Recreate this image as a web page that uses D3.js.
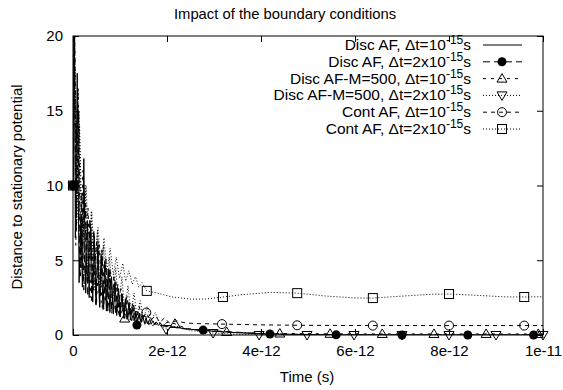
<!DOCTYPE html>
<html>
<head>
<meta charset="utf-8">
<script src="https://cdn.jsdelivr.net/npm/d3@7"></script>
<style>
  body { margin: 0; background: #fff; }
  svg { font-family: "Liberation Sans", Arial, sans-serif; }
  .axis text { font-size: 15px; fill: #000; }
  .axis line { stroke: #000; }
</style>
</head>
<body>
<svg width="563" height="390"></svg>
<script>
var svg = d3.select("svg"),
    width = +svg.attr("width"),
    height = +svg.attr("height");

// time in ps, value = distance to stationary potential
var discAF1 = [[0,10],[0.025,23],[0.05,6.5],[0.09,17.5],[0.13,3.5],[0.17,8],[0.2,3.2],[0.23,11.8],[0.27,2.8],
  [0.31,7.5],[0.345,2.5],[0.38,7.2],[0.42,2.2],[0.455,6.6],[0.49,2.0],[0.53,6.0],[0.565,1.85],[0.6,5.4],
  [0.64,1.7],[0.675,4.9],[0.71,1.6],[0.75,4.4],[0.785,1.5],[0.82,3.9],[0.86,1.4],[0.895,3.5],[0.93,1.3],
  [0.97,3.1],[1.005,1.2],[1.04,2.7],[1.08,1.12],[1.115,2.4],[1.15,1.05],[1.19,2.1],[1.225,1.0],[1.26,1.85],
  [1.3,0.95],[1.335,1.6],[1.37,0.9],[1.41,1.45],[1.445,0.85],[1.48,1.3],[1.52,0.8],[1.555,1.15],[1.59,0.75],
  [1.63,1.05],[1.665,0.72],[1.7,0.95],[1.74,0.68],[1.78,0.85],[1.82,0.64],[1.86,0.78],[1.9,0.6],[1.95,0.7],
  [2.0,0.56],[2.05,0.64],[2.1,0.52],[2.2,0.5],[2.4,0.42],[2.6,0.35],[3.0,0.25],[3.5,0.15],[4.0,0.08],
  [5,0.03],[6,0.01],[8,0],[10,0]];

var discAF2 = [[0,10],[0.03,22],[0.06,7],[0.1,16.5],[0.145,3.8],[0.19,9.5],[0.23,3.0],[0.27,8.8],[0.315,2.6],
  [0.36,7.8],[0.4,2.3],[0.445,7.0],[0.485,2.1],[0.53,6.3],[0.57,1.9],[0.615,5.7],[0.655,1.75],[0.7,5.1],
  [0.74,1.6],[0.785,4.5],[0.825,1.45],[0.87,3.9],[0.91,1.35],[0.955,3.4],[0.995,1.25],[1.04,2.9],[1.08,1.15],
  [1.125,2.5],[1.165,1.05],[1.21,2.15],[1.25,0.95],[1.295,1.8],[1.36,0.67],[1.4,1.45],[1.445,0.8],[1.49,1.25],
  [1.53,0.72],[1.575,1.05],[1.615,0.68],[1.66,0.92],[1.7,0.62],[1.75,0.8],[1.8,0.58],[1.9,0.65],[2.0,0.52],
  [2.1,0.55],[2.25,0.45],[2.4,0.4],[2.77,0.33],[3.4,0.2],[4.19,0.07],[5.6,0.01],[7,0],[8.4,0],[9.8,0],[10,0]];
var discAF2Marks = [[0,10],[1.36,0.67],[2.77,0.33],[4.19,0.07],[5.6,0.01],[7,0],[8.4,0],[9.8,0]];

var discM1 = [[0,10],[0.03,22],[0.06,6],[0.11,16.5],[0.16,3.8],[0.21,11],[0.26,3.1],[0.32,8.5],[0.38,2.5],
  [0.44,7],[0.5,2.1],[0.56,6],[0.62,1.8],[0.68,5],[0.74,1.6],[0.8,4.2],[0.86,1.4],[0.92,3.5],[0.98,1.25],
  [1.04,2.9],[1.1,1.1],[1.16,2.4],[1.22,1.0],[1.28,2.0],[1.34,0.9],[1.4,1.65],[1.46,0.85],[1.52,1.35],[1.58,0.8],
  [1.65,1.15],[1.72,0.7],[1.8,1.0],[1.9,0.65],[2.0,0.85],[2.17,0.75],[2.4,0.45],[2.7,0.3],[3.27,0.2],[3.8,0.13],
  [4.4,0.1],[5.47,0.08],[6.58,0.07],[7.68,0.07],[8.79,0.07],[9.9,0.07],[10,0.07]];
var discM1Marks = [[0,10],[1.1,1.1],[2.17,0.75],[3.27,0.2],[4.4,0.1],[5.47,0.08],[6.58,0.07],[7.68,0.07],[8.79,0.07],[9.9,0.07]];

var discM2 = [[0,10],[0.03,21],[0.08,7.5],[0.13,15],[0.19,4.5],[0.26,10],[0.32,3.6],[0.39,8.3],[0.45,3],
  [0.52,7],[0.58,2.6],[0.65,6],[0.71,2.3],[0.78,5.2],[0.84,2.0],[0.91,4.5],[0.97,1.8],[1.04,3.9],[1.1,1.6],
  [1.17,3.3],[1.23,1.4],[1.3,2.8],[1.36,1.25],[1.43,2.3],[1.5,1.1],[1.58,1.9],[1.66,0.95],[1.75,1.5],[1.85,0.7],
  [1.98,0.4],[2.2,0.6],[2.5,0.3],[2.98,0.13],[3.5,0.05],[3.96,0],[10,0]];
var discM2Marks = [[0,10],[1.0,1.7],[1.98,0.4],[2.98,0.13],[3.96,0],[4.98,0],[5.98,0],[7.0,0],[8.0,0],[9.0,0],[10,0]];

var contAF1 = [[0,10],[0.03,22],[0.07,7],[0.12,15],[0.17,4.5],[0.24,9.5],[0.3,3.6],[0.37,7.5],[0.43,3],
  [0.5,6.2],[0.56,2.5],[0.63,5.2],[0.69,2.2],[0.76,4.4],[0.82,1.9],[0.89,3.7],[0.95,1.7],[1.02,3.1],[1.08,1.5],
  [1.15,2.6],[1.21,1.3],[1.28,2.2],[1.34,1.15],[1.41,1.9],[1.47,1.05],[1.56,1.5],[1.65,0.95],[1.75,1.3],[1.85,0.85],
  [1.95,1.15],[2.05,0.8],[2.2,0.95],[2.4,0.8],[2.7,0.76],[3.17,0.73],[4,0.68],[4.77,0.65],[6.38,0.63],[8.0,0.63],
  [9.6,0.63],[10,0.63]];
var contAF1Marks = [[0,10],[1.56,1.5],[3.17,0.73],[4.77,0.65],[6.38,0.63],[8.0,0.63],[9.6,0.63]];

var contAF2 = [[0,10],[0.03,21],[0.08,8],[0.14,14],[0.2,6],[0.28,10],[0.34,5.2],[0.4,8.2],[0.46,4.8],
  [0.53,7.2],[0.6,4.5],[0.66,6.5],[0.72,4.2],[0.79,5.8],[0.86,4],[0.92,5.2],[0.99,3.8],[1.06,4.8],[1.12,3.6],
  [1.19,4.3],[1.26,3.4],[1.33,3.9],[1.4,3.2],[1.47,3.5],[1.57,2.95],[1.8,2.8],[2.1,2.55],[2.5,2.4],[2.8,2.4],
  [3.19,2.54],[3.6,2.7],[4.2,2.85],[4.77,2.8],[5.4,2.6],[6.0,2.48],[6.38,2.47],[7.0,2.6],[7.6,2.72],[8.0,2.74],
  [8.6,2.65],[9.2,2.55],[9.6,2.54],[10,2.56]];
var contAF2Marks = [[0,10],[1.57,2.95],[3.19,2.54],[4.77,2.8],[6.38,2.47],[8.0,2.74],[9.6,2.54]];

var xTicks = [0, 2e-12, 4e-12, 6e-12, 8e-12, 1e-11];
var xTickLabels = ["0", "2e-12", "4e-12", "6e-12", "8e-12", "1e-11"];
var yTicks = [0, 5, 10, 15, 20];

var series = [
  {pre: "Disc AF, \u0394t=10", data: discAF1, marks: [], dash: null, sym: null},
  {pre: "Disc AF, \u0394t=2x10", data: discAF2, marks: discAF2Marks, dash: "7,4", sym: "dot"},
  {pre: "Disc AF-M=500, \u0394t=10", data: discM1, marks: discM1Marks, dash: "3,5", sym: "up"},
  {pre: "Disc AF-M=500, \u0394t=2x10", data: discM2, marks: discM2Marks, dash: "1,2", sym: "down"},
  {pre: "Cont AF, \u0394t=10", data: contAF1, marks: contAF1Marks, dash: "4,4", sym: "circle"},
  {pre: "Cont AF, \u0394t=2x10", data: contAF2, marks: contAF2Marks, dash: "1,2", sym: "square"}
];

var plotLeft = 73, plotRight = 543, plotTop = 36, plotBottom = 335;

var x = d3.scaleLinear().domain([0, 1e-11]).range([plotLeft, plotRight]);
var y = d3.scaleLinear().domain([0, 20]).range([plotBottom, plotTop]);

svg.append("defs").append("clipPath").attr("id", "clip")
  .append("rect").attr("x", plotLeft).attr("y", plotTop)
  .attr("width", plotRight - plotLeft).attr("height", plotBottom - plotTop);

var line = d3.line()
    .x(function(d) { return x(d[0] * 1e-12); })
    .y(function(d) { return y(d[1]); });

function drawMarker(g, sym, cx, cy) {
  if (sym === "dot") {
    g.append("circle").attr("cx", cx).attr("cy", cy).attr("r", 4.5).attr("fill", "#000");
  } else if (sym === "circle") {
    g.append("circle").attr("cx", cx).attr("cy", cy).attr("r", 4.5)
      .attr("fill", "none").attr("stroke", "#000");
  } else if (sym === "square") {
    g.append("rect").attr("x", cx - 4.5).attr("y", cy - 4.5).attr("width", 9).attr("height", 9)
      .attr("fill", "none").attr("stroke", "#000");
  } else if (sym === "up") {
    g.append("path").attr("d", "M" + (cx - 5) + "," + (cy + 3.5) + "L" + (cx + 5) + "," + (cy + 3.5) +
      "L" + cx + "," + (cy - 5) + "Z").attr("fill", "none").attr("stroke", "#000");
  } else if (sym === "down") {
    g.append("path").attr("d", "M" + (cx - 5) + "," + (cy - 3.5) + "L" + (cx + 5) + "," + (cy - 3.5) +
      "L" + cx + "," + (cy + 5) + "Z").attr("fill", "none").attr("stroke", "#000");
  }
}

var plot = svg.append("g").attr("clip-path", "url(#clip)");

series.slice().reverse().forEach(function(s) {
  plot.append("path")
      .datum(s.data)
      .attr("fill", "none")
      .attr("stroke", "#000")
      .attr("stroke-width", 1)
      .attr("stroke-dasharray", s.dash)
      .attr("d", line);
});

var markG = svg.append("g");
series.forEach(function(s) {
  s.marks.forEach(function(d) {
    drawMarker(markG, s.sym, x(d[0] * 1e-12), y(d[1]));
  });
});

// axes, gnuplot style: ticks inward, mirrored
svg.append("g")
    .attr("class", "axis")
    .attr("transform", "translate(0," + plotBottom + ")")
    .call(d3.axisBottom(x).tickValues(xTicks).tickSize(-6).tickPadding(10)
      .tickFormat(function(d, i) { return xTickLabels[i]; }))
    .call(function(g) { g.select(".domain").remove(); });

svg.append("g")
    .attr("class", "axis")
    .attr("transform", "translate(0," + plotTop + ")")
    .call(d3.axisTop(x).tickValues(xTicks).tickSize(-6).tickFormat(""))
    .call(function(g) { g.select(".domain").remove(); });

svg.append("g")
    .attr("class", "axis")
    .attr("transform", "translate(" + plotLeft + ",0)")
    .call(d3.axisLeft(y).tickValues(yTicks).tickSize(-6).tickPadding(10))
    .call(function(g) { g.select(".domain").remove(); });

svg.append("g")
    .attr("class", "axis")
    .attr("transform", "translate(" + plotRight + ",0)")
    .call(d3.axisRight(y).tickValues(yTicks).tickSize(-6).tickFormat(""))
    .call(function(g) { g.select(".domain").remove(); });

svg.append("rect")
    .attr("x", plotLeft).attr("y", plotTop)
    .attr("width", plotRight - plotLeft).attr("height", plotBottom - plotTop)
    .attr("fill", "none").attr("stroke", "#000");

svg.append("text")
    .attr("x", 285).attr("y", 19)
    .attr("text-anchor", "middle")
    .style("font-size", "14.8px")
    .text("Impact of the boundary conditions");

svg.append("text")
    .attr("x", 307).attr("y", 382)
    .attr("text-anchor", "middle")
    .style("font-size", "15px")
    .text("Time (s)");

svg.append("text")
    .attr("transform", "translate(22,187) rotate(-90)")
    .attr("text-anchor", "middle")
    .style("font-size", "15px")
    .text("Distance to stationary potential");

// legend
var legend = svg.append("g");
series.forEach(function(s, i) {
  var ly = 45 + i * 16.8;
  var t = legend.append("text")
      .attr("x", 471).attr("y", ly + 5)
      .attr("text-anchor", "end")
      .style("font-size", "15.5px");
  t.append("tspan").text(s.pre);
  t.append("tspan").attr("dy", -6).style("font-size", "12px").text("-15");
  t.append("tspan").attr("dy", 6).text("s");
  legend.append("line")
      .attr("x1", 483).attr("x2", 522)
      .attr("y1", ly).attr("y2", ly)
      .attr("stroke", "#000")
      .attr("stroke-dasharray", s.dash);
  if (s.sym) drawMarker(legend, s.sym, 502, ly);
});
</script>
</body>
</html>
